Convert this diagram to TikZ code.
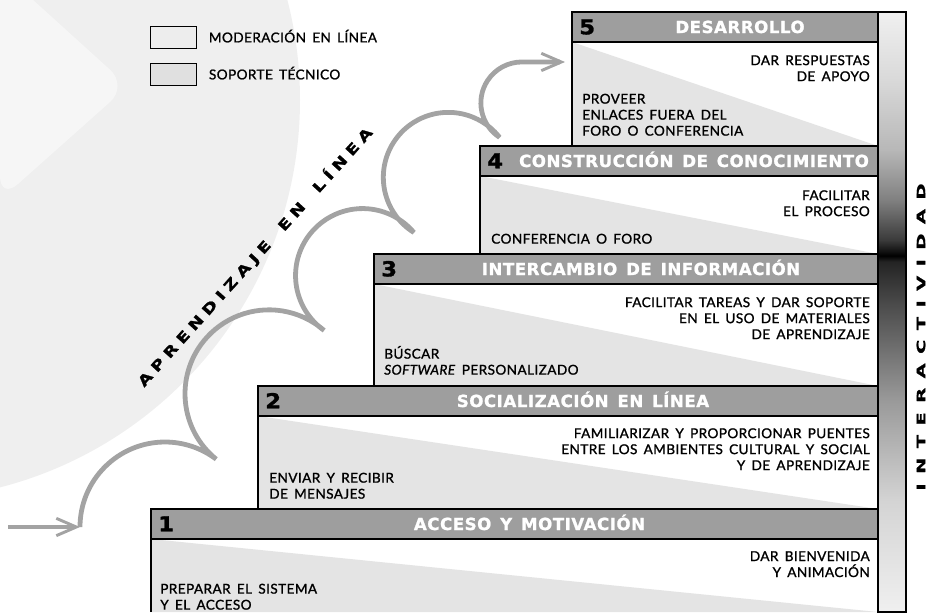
\documentclass[tikz,border=0pt]{standalone}
\usepackage{fontspec}
\setmainfont{Lato}[LetterSpace=3,WordSpace=1.6,BoldFont=Lato,BoldFeatures={FakeBold=1.2},
  BoldItalicFont=Lato Italic,BoldItalicFeatures={FakeBold=1.2}]
\newfontfamily\hdrfont{DejaVu Sans}[LetterSpace=3,WordSpace=1.4,BoldFeatures={FakeBold=1.2}]
\newfontfamily\numfont{DejaVu Sans}[FakeStretch=1.1,BoldFeatures={FakeBold=1.5}]
\newfontfamily\trackfont{DejaVu Sans}[FakeStretch=1.3,LetterSpace=38,WordSpace=1.6,BoldFeatures={FakeBold=1.5}]
\newfontfamily\tallfont{DejaVu Sans}[FakeStretch=1.7,LetterSpace=82,BoldFeatures={FakeBold=1.5}]
\usetikzlibrary{positioning,arrows.meta}

\definecolor{hdrgray}{HTML}{9E9E9E}
\definecolor{bodygray}{HTML}{E4E4E4}
\definecolor{flowgray}{HTML}{A3A3A3}
\definecolor{bggray}{HTML}{EFEFEF}
\definecolor{bglight}{HTML}{F6F6F6}

% interactividad bar, bottom to top
\pgfdeclareverticalshading{barshade}{100bp}{color(0bp)=(black!6); color(25bp)=(black!6);
  color(34.3bp)=(black!17); color(42.7bp)=(black!40); color(50.5bp)=(black!70);
  color(54.2bp)=(black!86); color(54.7bp)=(black); color(55bp)=(black!94);
  color(56bp)=(black!77); color(59.3bp)=(black!50); color(63.5bp)=(black!28);
  color(69.3bp)=(black!15); color(75bp)=(black!6); color(100bp)=(black!6)}

\tikzset{
  hdr/.style={draw=black,fill=hdrgray,line width=0.8pt},
  edge/.style={draw=black,line width=0.8pt},
  hdrtxt/.style={text=white,inner sep=0pt,text height=9pt,text depth=0pt,
    font=\hdrfont\bfseries\fontsize{12.5}{14}\selectfont},
  numtxt/.style={anchor=west,inner sep=0pt,text height=11pt,text depth=0pt,
    font=\numfont\bfseries\fontsize{15.5}{16}\selectfont},
  rtxt/.style={anchor=north east,align=right,inner sep=0pt,font=\bfseries\fontsize{10.2}{12}\selectfont},
  ltxt/.style={anchor=south west,align=left,inner sep=0pt,font=\bfseries\fontsize{10.2}{12}\selectfont},
  flow/.style={draw=flowgray,line width=3.6pt,line join=bevel},
  legbox/.style={draw=black,line width=0.8pt,minimum width=34pt,minimum height=17pt,inner sep=0pt},
  legtxt/.style={anchor=west,inner sep=0pt,text height=7.3pt,text depth=0pt,
    font=\bfseries\fontsize{10.2}{12}\selectfont},
  diagtxt/.style={inner sep=0pt,font=\trackfont\bfseries\fontsize{10.5}{11}\selectfont},
  sidetxt/.style={inner sep=0pt,font=\tallfont\bfseries\fontsize{8.6}{10}\selectfont}
}

\begin{document}
\begin{tikzpicture}[x=0.75pt,y=-0.75pt]
\useasboundingbox (0,0) rectangle (936,612);
\clip (0,0) rectangle (936,612);

% background
\fill[bggray] (-100,100) circle[radius=400];
\fill[bglight,rounded corners=18pt] (0,-30) -- (128,86) -- (0,200) -- cycle;

% legend
\node[legbox,fill=black!7] (mod) at (173.5,37.5) {};
\node[legtxt,right=9pt of mod] (modtxt) {MODERACIÓN EN LÍNEA};
\node[legbox,fill=black!12] (sop) at (173.5,74.5) {};
\node[legtxt,right=9pt of sop] (soptxt) {SOPORTE TÉCNICO};

% steps
\foreach \n/\l/\t/\b/\ttl in {5/572/12/146/DESARROLLO,
    4/480/146/254/CONSTRUCCIÓN DE CONOCIMIENTO,
    3/374/254/386/INTERCAMBIO DE INFORMACIÓN,
    2/258/386/509/SOCIALIZACIÓN EN LÍNEA,
    1/151/509/612/ACCESO Y MOTIVACIÓN}{
  \fill[white] (\l,\t+30) rectangle (878,\b);
  \fill[bodygray] (\l,\t+30) -- (878,\b) -- (\l,\b) -- cycle;
  \draw[edge] (\l,\b) -- (\l,\t+30);
  \draw[hdr] (\l,\t) rectangle (878,\t+30);
  \node[numtxt] (num\n) at (\l+7,\t+15) {\n};
  \node[hdrtxt] (hdr\n) at ({(\l+878)/2+15},\t+15) {\ttl};
}

% moderacion (right) and soporte (left)
\node[rtxt] (r5) at (870,55) {DAR RESPUESTAS\\DE APOYO};
\node[ltxt] (l5) at (582,136) {PROVEER\\ENLACES FUERA DEL\\FORO O CONFERENCIA};
\node[rtxt] (r4) at (870,190) {FACILITAR\\EL PROCESO};
\node[ltxt] (l4) at (491,244) {CONFERENCIA O FORO};
\node[rtxt] (r3) at (870,297) {FACILITAR TAREAS Y DAR SOPORTE\\EN EL USO DE MATERIALES\\DE APRENDIZAJE};
\node[ltxt] (l3) at (384,375) {BÚSCAR\\\textit{SOFTWARE} PERSONALIZADO};
\node[rtxt] (r2) at (870,428) {FAMILIARIZAR Y PROPORCIONAR PUENTES\\ENTRE LOS AMBIENTES CULTURAL Y SOCIAL\\Y DE APRENDIZAJE};
\node[ltxt] (l2) at (269,499) {ENVIAR Y RECIBIR\\DE MENSAJES};
\node[rtxt] (r1) at (870,551) {DAR BIENVENIDA\\Y ANIMACIÓN};
\node[ltxt] (l1) at (160,610) {PREPARAR EL SISTEMA\\Y EL ACCESO};

% interactividad
\shade[shading=barshade] (878,12) rectangle (906,612);
\draw[edge] (878,12) rectangle (906,612);
\node[sidetxt,rotate=90] (inter) at (921,337) {INTERACTIVIDAD};
\node[diagtxt,rotate=48] (aprend) at (255,257) {APRENDIZAJE EN LÍNEA};

% flow arrows
\coordinate (entry) at (8,527);
\coordinate (land) at (80,527);
\coordinate (goal) at (565,62);
\draw[flow,-{Straight Barb[length=15pt,width=13pt,line width=2.2pt]}] (entry) -- (land);
\draw[flow,-{Straight Barb[length=15pt,width=13pt,line width=2.2pt]}] (land)
  arc[start angle=180,end angle=307,radius=85]
  arc[start angle=129,end angle=311,radius=84]
  arc[start angle=125,end angle=320,radius=67]
  arc[start angle=122,end angle=322,radius=65]
  arc[start angle=123,end angle=270,radius=41] -- (goal);
\end{tikzpicture}
\end{document}
